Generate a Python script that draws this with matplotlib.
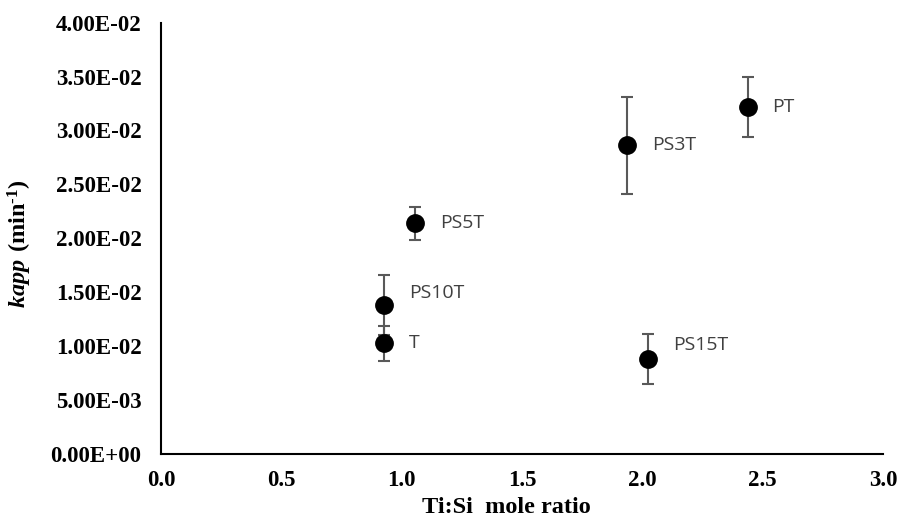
import matplotlib
matplotlib.use("Agg")
import matplotlib.pyplot as plt

# Data
labels = ["T", "PS10T", "PS5T", "PS3T", "PS15T", "PT"]
ti_si = [0.928, 0.928, 1.057, 1.936, 2.024, 2.437]
kapp = [0.01023, 0.01379, 0.02137, 0.02864, 0.00877, 0.0322]
kapp_err = [0.0016, 0.0028, 0.0015, 0.0045, 0.0023, 0.0028]
xticks = [0.0, 0.5, 1.0, 1.5, 2.0, 2.5, 3.0]
yticks = [0.0, 0.005, 0.01, 0.015, 0.02, 0.025, 0.03, 0.035, 0.04]
ytick_labels = ["0.00E+00", "5.00E-03", "1.00E-02", "1.50E-02", "2.00E-02",
                "2.50E-02", "3.00E-02", "3.50E-02", "4.00E-02"]
# label offsets in points (dx, dy)
label_offsets = [(18, 0), (18, 9), (18, 0), (18, 0), (18, 10), (18, 0)]

plt.rcParams['mathtext.fontset'] = 'custom'
plt.rcParams['mathtext.rm'] = 'Liberation Serif:bold'
plt.rcParams['mathtext.it'] = 'Liberation Serif:italic:bold'
plt.rcParams['mathtext.bf'] = 'Liberation Serif:bold'

fig = plt.figure(figsize=(9.02, 5.29), dpi=100)
ax = fig.add_axes([0.1785, 0.1427, 0.8005, 0.8143])

ax.errorbar(ti_si, kapp, yerr=kapp_err, fmt='none', ecolor='#595959',
            elinewidth=1.5, capsize=4.5, capthick=1.5, zorder=2)
ax.plot(ti_si, kapp, 'o', color='black', markersize=12.5, zorder=3)

for lab, x, y, (dx, dy) in zip(labels, ti_si, kapp, label_offsets):
    ax.annotate(lab, (x, y), xytext=(dx, dy), textcoords='offset points',
                ha='left', va='center', fontsize=14, color='#404040',
                family='Open Sans')

ax.set_xlim(0, 3.0)
ax.set_ylim(0, 0.04)
ax.set_xticks(xticks)
ax.set_xticklabels([f"{v:.1f}" for v in xticks])
ax.set_yticks(yticks)
ax.set_yticklabels(ytick_labels)
ax.tick_params(length=0)
ax.tick_params(axis='y', pad=14)
ax.tick_params(axis='x', pad=12)
for t in ax.get_xticklabels() + ax.get_yticklabels():
    t.set_fontfamily('Liberation Serif')
    t.set_fontweight('bold')
    t.set_fontsize(16.5)

for s in ['top', 'right']:
    ax.spines[s].set_visible(False)
for s in ['left', 'bottom']:
    ax.spines[s].set_linewidth(1.5)
    ax.spines[s].set_color('black')

ax.set_xlabel("Ti:Si  mole ratio", fontfamily='Liberation Serif',
              fontweight='bold', fontsize=17.5)
ax.xaxis.set_label_coords(0.479, -0.100)
ax.set_ylabel(r"$\mathit{kapp}$ $\mathbf{(min^{\text{-1}})}$", fontsize=17.5)
ax.yaxis.set_label_coords(-0.176, 0.486)

fig.savefig("out.png", dpi=100)
